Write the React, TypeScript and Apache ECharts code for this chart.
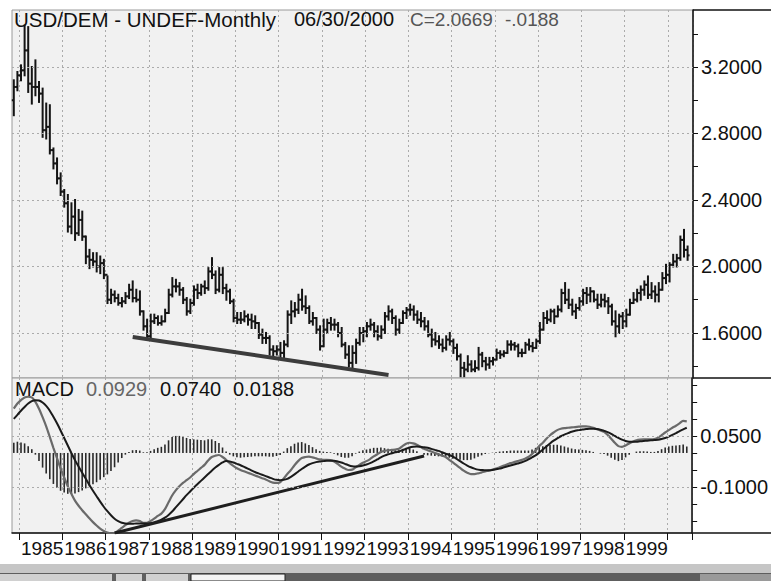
import React, { useEffect, useRef } from "react";
import * as echarts from "echarts";

// ---- Data (monthly USD/DEM, Nov 1984 .. Jun 2000) ----
const startYear = 1984;
const startMonth = 11; // November
const slotCount = 189; // one empty slot after Jun 2000

const firstOpen = 3.0;
const highs = [
  3.12, 3.17,
  3.21, 3.45, 3.44, 3.20, 3.24, 3.11, 3.07, 2.98, 2.97, 2.71, 2.65, 2.56,
  2.46, 2.43, 2.38, 2.40, 2.34, 2.33, 2.18, 2.10, 2.08, 2.08, 2.06, 2.04,
  1.94, 1.86, 1.85, 1.83, 1.81, 1.84, 1.89, 1.91, 1.86, 1.85, 1.73, 1.68,
  1.71, 1.71, 1.70, 1.70, 1.74, 1.86, 1.93, 1.92, 1.90, 1.87, 1.81, 1.80,
  1.88, 1.89, 1.89, 1.91, 1.99, 2.05, 1.97, 1.99, 1.99, 1.89, 1.86, 1.80,
  1.72, 1.72, 1.73, 1.71, 1.71, 1.70, 1.66, 1.62, 1.60, 1.58, 1.52, 1.52,
  1.54, 1.55, 1.73, 1.79, 1.78, 1.83, 1.86, 1.82, 1.76, 1.72, 1.69, 1.64,
  1.68, 1.68, 1.69, 1.68, 1.66, 1.63, 1.54, 1.52, 1.52, 1.56, 1.63, 1.63,
  1.66, 1.68, 1.66, 1.64, 1.64, 1.72, 1.76, 1.74, 1.70, 1.68, 1.73, 1.75,
  1.77, 1.76, 1.73, 1.72, 1.69, 1.67, 1.62, 1.60, 1.58, 1.56, 1.58, 1.60,
  1.56, 1.53, 1.47, 1.42, 1.46, 1.43, 1.43, 1.51, 1.48, 1.45, 1.45, 1.45,
  1.50, 1.49, 1.49, 1.55, 1.55, 1.54, 1.53, 1.50, 1.54, 1.56, 1.54, 1.56,
  1.66, 1.72, 1.73, 1.74, 1.74, 1.76, 1.86, 1.90, 1.86, 1.80, 1.77, 1.81,
  1.86, 1.87, 1.87, 1.85, 1.83, 1.83, 1.83, 1.81, 1.77, 1.73, 1.71, 1.72,
  1.74, 1.80, 1.84, 1.86, 1.88, 1.91, 1.94, 1.90, 1.88, 1.90, 1.96, 2.01,
  2.02, 2.07, 2.07, 2.18, 2.22, 2.12,
];
const lows = [
  2.91, 3.06,
  3.12, 3.15, 3.05, 2.98, 3.03, 2.99, 2.78, 2.77, 2.68, 2.59, 2.50, 2.43,
  2.36, 2.21, 2.20, 2.16, 2.19, 2.16, 2.02, 1.99, 2.00, 1.97, 1.96, 1.93,
  1.78, 1.78, 1.79, 1.77, 1.76, 1.78, 1.81, 1.79, 1.79, 1.71, 1.62, 1.57,
  1.57, 1.66, 1.65, 1.65, 1.67, 1.72, 1.82, 1.85, 1.83, 1.78, 1.71, 1.72,
  1.77, 1.81, 1.83, 1.84, 1.86, 1.93, 1.84, 1.85, 1.84, 1.80, 1.78, 1.67,
  1.66, 1.66, 1.67, 1.65, 1.63, 1.63, 1.57, 1.54, 1.54, 1.47, 1.46, 1.47,
  1.45, 1.45, 1.52, 1.66, 1.70, 1.72, 1.74, 1.72, 1.66, 1.65, 1.60, 1.50,
  1.52, 1.60, 1.62, 1.62, 1.58, 1.52, 1.45, 1.40, 1.39, 1.42, 1.53, 1.55,
  1.58, 1.62, 1.58, 1.56, 1.57, 1.60, 1.68, 1.66, 1.59, 1.60, 1.66, 1.69,
  1.71, 1.68, 1.66, 1.64, 1.62, 1.58, 1.52, 1.53, 1.51, 1.49, 1.50, 1.53,
  1.48, 1.44, 1.34, 1.34, 1.37, 1.37, 1.37, 1.38, 1.40, 1.38, 1.39, 1.41,
  1.44, 1.45, 1.46, 1.48, 1.50, 1.50, 1.46, 1.46, 1.48, 1.50, 1.49, 1.51,
  1.54, 1.62, 1.66, 1.67, 1.66, 1.70, 1.73, 1.78, 1.75, 1.71, 1.69, 1.74,
  1.77, 1.78, 1.79, 1.79, 1.75, 1.76, 1.76, 1.72, 1.65, 1.58, 1.60, 1.63,
  1.64, 1.71, 1.78, 1.79, 1.80, 1.83, 1.81, 1.81, 1.79, 1.79, 1.86, 1.90,
  1.91, 2.00, 2.00, 2.04, 2.06, 2.04,
];
const closes = [
  3.08, 3.15,
  3.18, 3.30, 3.10, 3.08, 3.08, 3.04, 2.82, 2.84, 2.70, 2.62, 2.53, 2.45,
  2.38, 2.24, 2.30, 2.20, 2.28, 2.18, 2.06, 2.04, 2.03, 2.00, 2.02, 1.95,
  1.80, 1.83, 1.81, 1.78, 1.79, 1.82, 1.86, 1.81, 1.80, 1.73, 1.64, 1.58,
  1.67, 1.69, 1.66, 1.67, 1.72, 1.83, 1.88, 1.88, 1.86, 1.80, 1.73, 1.78,
  1.86, 1.84, 1.88, 1.87, 1.97, 1.95, 1.86, 1.95, 1.87, 1.85, 1.79, 1.69,
  1.68, 1.68, 1.70, 1.68, 1.67, 1.66, 1.59, 1.57, 1.57, 1.50, 1.49, 1.50,
  1.48, 1.53, 1.71, 1.73, 1.74, 1.80, 1.76, 1.75, 1.67, 1.69, 1.62, 1.52,
  1.62, 1.66, 1.65, 1.65, 1.60, 1.53, 1.47, 1.42, 1.48, 1.54, 1.60, 1.61,
  1.64, 1.65, 1.61, 1.58, 1.62, 1.70, 1.73, 1.69, 1.62, 1.66, 1.72, 1.74,
  1.74, 1.71, 1.68, 1.67, 1.64, 1.59, 1.56, 1.55, 1.53, 1.51, 1.56, 1.55,
  1.51, 1.46, 1.39, 1.38, 1.41, 1.38, 1.39, 1.47, 1.43, 1.41, 1.43, 1.44,
  1.48, 1.47, 1.48, 1.53, 1.53, 1.52, 1.48, 1.48, 1.53, 1.52, 1.51, 1.55,
  1.62, 1.69, 1.68, 1.73, 1.70, 1.74, 1.84, 1.80, 1.77, 1.73, 1.75, 1.79,
  1.84, 1.83, 1.85, 1.80, 1.77, 1.80, 1.79, 1.76, 1.67, 1.64, 1.70, 1.67,
  1.71, 1.78, 1.80, 1.84, 1.86, 1.89, 1.83, 1.85, 1.83, 1.86, 1.93, 1.95,
  2.01, 2.03, 2.05, 2.16, 2.10, 2.0669,
];

const macd = [
  0.130, 0.145,
  0.155, 0.163, 0.165, 0.163, 0.150, 0.130, 0.105, 0.078, 0.047, 0.015, -0.015, -0.045,
  -0.072, -0.098, -0.120, -0.140, -0.155, -0.168, -0.180, -0.192, -0.203, -0.213, -0.222, -0.229,
  -0.234, -0.236, -0.235, -0.228, -0.220, -0.212, -0.205, -0.200, -0.198, -0.200, -0.205, -0.205,
  -0.200, -0.193, -0.185, -0.178, -0.165, -0.145, -0.125, -0.110, -0.098, -0.088, -0.080, -0.072,
  -0.062, -0.053, -0.044, -0.035, -0.022, -0.012, -0.008, -0.006, -0.012, -0.020, -0.030, -0.038,
  -0.045, -0.050, -0.054, -0.058, -0.062, -0.066, -0.070, -0.074, -0.078, -0.083, -0.087, -0.088,
  -0.086, -0.075, -0.062, -0.050, -0.036, -0.024, -0.015, -0.012, -0.011, -0.013, -0.016, -0.019,
  -0.020, -0.020, -0.021, -0.025, -0.032, -0.040, -0.046, -0.050, -0.049, -0.042, -0.035, -0.029,
  -0.024, -0.018, -0.010, -0.004, 0.003, 0.006, 0.008, 0.009, 0.010, 0.012, 0.020, 0.027,
  0.030, 0.028, 0.024, 0.018, 0.012, 0.008, 0.004, 0.000, -0.004, -0.008, -0.012, -0.020,
  -0.028, -0.036, -0.044, -0.052, -0.058, -0.062, -0.062, -0.060, -0.057, -0.054, -0.052, -0.049,
  -0.046, -0.042, -0.038, -0.034, -0.030, -0.027, -0.024, -0.021, -0.017, -0.012, -0.003, 0.008,
  0.020, 0.030, 0.042, 0.052, 0.060, 0.067, 0.071, 0.073, 0.074, 0.075, 0.076, 0.077,
  0.078, 0.078, 0.077, 0.074, 0.070, 0.066, 0.062, 0.053, 0.042, 0.030, 0.020, 0.018,
  0.022, 0.028, 0.033, 0.037, 0.039, 0.040, 0.040, 0.040, 0.041, 0.045, 0.052, 0.060,
  0.067, 0.074, 0.080, 0.087, 0.094, 0.0929,
];
const signal = [
  0.100, 0.112,
  0.124, 0.135, 0.145, 0.152, 0.155, 0.154, 0.148, 0.138, 0.124, 0.106, 0.087, 0.066,
  0.044, 0.022, 0.000, -0.021, -0.040, -0.058, -0.076, -0.094, -0.111, -0.127, -0.143, -0.158,
  -0.171, -0.183, -0.193, -0.200, -0.205, -0.207, -0.208, -0.208, -0.207, -0.207, -0.207, -0.207,
  -0.206, -0.204, -0.200, -0.196, -0.190, -0.182, -0.172, -0.160, -0.148, -0.136, -0.124, -0.113,
  -0.102, -0.092, -0.082, -0.072, -0.062, -0.052, -0.043, -0.035, -0.028, -0.024, -0.025, -0.028,
  -0.032, -0.036, -0.041, -0.046, -0.051, -0.056, -0.060, -0.064, -0.068, -0.072, -0.076, -0.079,
  -0.080, -0.079, -0.076, -0.070, -0.063, -0.055, -0.047, -0.040, -0.034, -0.030, -0.027, -0.025,
  -0.024, -0.023, -0.023, -0.023, -0.025, -0.028, -0.032, -0.036, -0.039, -0.040, -0.039, -0.037,
  -0.034, -0.030, -0.025, -0.019, -0.013, -0.008, -0.004, -0.001, 0.002, 0.004, 0.008, 0.012,
  0.016, 0.018, 0.019, 0.018, 0.017, 0.015, 0.012, 0.009, 0.006, 0.002, -0.002, -0.006,
  -0.011, -0.017, -0.024, -0.031, -0.037, -0.042, -0.046, -0.049, -0.050, -0.051, -0.051, -0.050,
  -0.048, -0.046, -0.043, -0.040, -0.037, -0.034, -0.031, -0.028, -0.024, -0.019, -0.013, -0.007,
  0.001, 0.010, 0.019, 0.028, 0.036, 0.043, 0.049, 0.054, 0.058, 0.062, 0.065, 0.067,
  0.069, 0.070, 0.071, 0.071, 0.070, 0.068, 0.065, 0.061, 0.056, 0.050, 0.044, 0.039,
  0.035, 0.033, 0.033, 0.033, 0.034, 0.035, 0.036, 0.037, 0.038, 0.039, 0.041, 0.044,
  0.048, 0.053, 0.058, 0.064, 0.069, 0.074,
];

// trendlines drawn on the original (month index, value)
const priceTrend = [[33, 1.576], [104, 1.347]];
const macdTrend = [[28, -0.235], [114, -0.009]];

const priceLabelValues = [1.6, 2.0, 2.4, 2.8, 3.2];
const priceTickValues = [1.4, 1.6, 1.8, 2.0, 2.2, 2.4, 2.6, 2.8, 3.0, 3.2, 3.4];
const macdLabelValues = [0.05, -0.1];
const macdTickValues = [-0.2, -0.15, -0.1, -0.05, 0, 0.05, 0.1, 0.15, 0.2];

const titleParts = ["USD/DEM - UNDEF-Monthly", "06/30/2000", "C=2.0669", "-.0188"];
const macdParts = ["MACD", "0.0929", "0.0740", "0.0188"];

// ---- build ----
const categories: string[] = [];
for (let k = 0; k < slotCount; k++) {
  const m0 = startMonth - 1 + k;
  const y = startYear + Math.floor(m0 / 12);
  const m = (m0 % 12) + 1;
  categories.push(`${y}-${m < 10 ? "0" + m : m}`);
}
const isJan = (i: number) => !!categories[i] && categories[i].endsWith("-01");

const ohlc = closes.map((c, i) => [i, i === 0 ? firstOpen : closes[i - 1], highs[i], lows[i], c]);
const hist = macd.map((v, i) => +(v - signal[i]).toFixed(4));

const FONT = "'Liberation Sans', Arial, Helvetica, sans-serif";

export default function App() {
  const ref = useRef<HTMLDivElement>(null);
  useEffect(() => {
    if (!ref.current) return;
    const chart = echarts.init(ref.current, undefined, { renderer: "svg" });
    const gridL = 12, gridR = 693;
    const dotted = { type: [2, 3], color: "#ababab", width: 1 };
    const txt = (x: number, y: number, text: string, fill: string, size = 20.5) => ({
      type: "text", x, y, z: 10,
      style: { text, fill, font: `${size}px ${FONT}`, verticalAlign: "middle" },
    });
    const option: any = {
      animation: false,
      backgroundColor: "#ffffff",
      textStyle: { fontFamily: FONT },
      grid: [
        { left: gridL, top: 10, width: gridR - gridL, height: 368, show: true, backgroundColor: "#f1f1f1", borderColor: "#9a9a9a", borderWidth: 1 },
        { left: gridL, top: 378, width: gridR - gridL, height: 155, show: true, backgroundColor: "#f1f1f1", borderColor: "#9a9a9a", borderWidth: 1 },
      ],
      xAxis: [
        {
          gridIndex: 0, type: "category", data: categories, boundaryGap: true,
          axisLine: { show: false }, axisTick: { show: false }, axisLabel: { show: false },
          splitLine: { show: true, interval: (i: number) => isJan(i), lineStyle: dotted },
        },
        {
          gridIndex: 1, type: "category", data: categories, boundaryGap: true,
          axisLine: { show: true, onZero: false, lineStyle: { color: "#111", width: 1.5 } },
          axisTick: { show: true, interval: (i: number) => isJan(i), length: 7, lineStyle: { color: "#111", width: 1 } },
          axisLabel: {
            show: true, interval: (i: number) => isJan(i), align: "left", margin: 6,
            fontSize: 19, color: "#111", fontFamily: FONT,
            formatter: (v: string) => { const y = v.slice(0, 4); return y === "2000" ? "" : y; },
          },
          splitLine: { show: true, interval: (i: number) => isJan(i), lineStyle: dotted },
        },
      ],
      yAxis: [
        {
          gridIndex: 0, type: "value", position: "right", min: 1.329, max: 3.543,
          axisLine: { show: true, lineStyle: { color: "#111", width: 1.5 } },
          axisTick: { show: true, customValues: priceTickValues, length: 5, lineStyle: { color: "#111" } },
          axisLabel: { customValues: priceLabelValues, formatter: (v: number) => v.toFixed(4), fontSize: 20, color: "#111", margin: 8, fontFamily: FONT },
          splitLine: { show: false },
        },
        {
          gridIndex: 1, type: "value", position: "right", min: -0.235, max: 0.22,
          axisLine: { show: true, lineStyle: { color: "#111", width: 1.5 } },
          axisTick: { show: true, customValues: macdTickValues, length: 5, lineStyle: { color: "#111" } },
          axisLabel: { customValues: macdLabelValues, formatter: (v: number) => v.toFixed(4), fontSize: 20, color: "#111", margin: 8, fontFamily: FONT },
          splitLine: { show: false },
        },
      ],
      series: [
        {
          type: "line", xAxisIndex: 0, yAxisIndex: 0, data: [], silent: true, z: 1,
          markLine: {
            silent: true, symbol: ["none", "none"], label: { show: false },
            lineStyle: dotted,
            data: priceLabelValues.map((v) => ({ yAxis: v })),
          },
        },
        {
          type: "custom", name: "USD/DEM", xAxisIndex: 0, yAxisIndex: 0, z: 3,
          data: ohlc, encode: { x: 0, y: [2, 3] },
          renderItem: (_p: any, api: any) => {
            const i = api.value(0);
            const pO = api.coord([i, api.value(1)]);
            const pH = api.coord([i, api.value(2)]);
            const pL = api.coord([i, api.value(3)]);
            const pC = api.coord([i, api.value(4)]);
            const st = { stroke: "#141414", lineWidth: 2 };
            return {
              type: "group",
              children: [
                { type: "line", shape: { x1: pH[0], y1: pH[1] - 1, x2: pL[0], y2: pL[1] + 1 }, style: st },
                { type: "line", shape: { x1: pO[0] - 2, y1: pO[1], x2: pO[0], y2: pO[1] }, style: st },
                { type: "line", shape: { x1: pC[0], y1: pC[1], x2: pC[0] + 2, y2: pC[1] }, style: st },
              ],
            };
          },
        },
        {
          type: "line", xAxisIndex: 0, yAxisIndex: 0, data: priceTrend, symbol: "none", z: 4,
          lineStyle: { color: "#3c3c3c", width: 4 },
        },
        {
          type: "line", xAxisIndex: 1, yAxisIndex: 1, data: [], silent: true, z: 1,
          markLine: {
            silent: true, symbol: ["none", "none"], label: { show: false },
            lineStyle: dotted,
            data: macdLabelValues.map((v) => ({ yAxis: v })),
          },
        },
        {
          type: "bar", name: "Hist", xAxisIndex: 1, yAxisIndex: 1, data: hist, barWidth: 1.6, z: 2,
          itemStyle: { color: "#2a2a2a" },
        },
        {
          type: "line", name: "MACD", xAxisIndex: 1, yAxisIndex: 1, data: macd, symbol: "none", smooth: 0.3, z: 3,
          lineStyle: { color: "#6a6a6a", width: 2.2 },
        },
        {
          type: "line", name: "Signal", xAxisIndex: 1, yAxisIndex: 1, data: signal, symbol: "none", smooth: 0.3, z: 3,
          lineStyle: { color: "#1a1a1a", width: 2 },
        },
        {
          type: "line", xAxisIndex: 1, yAxisIndex: 1, data: macdTrend, symbol: "none", z: 4,
          lineStyle: { color: "#1e1e1e", width: 3 },
        },
      ],
      graphic: [
        { type: "line", shape: { x1: gridR, y1: 10, x2: 771, y2: 10 }, style: { stroke: "#111", lineWidth: 1.5 }, z: 10 },
        { type: "line", shape: { x1: gridR, y1: 378, x2: 771, y2: 378 }, style: { stroke: "#111", lineWidth: 1.5 }, z: 10 },
        { type: "line", shape: { x1: gridR, y1: 533, x2: 771, y2: 533 }, style: { stroke: "#111", lineWidth: 1.5 }, z: 10 },
        { type: "rect", shape: { x: 0, y: 564, width: 771, height: 9 }, style: { fill: "#c6c6c6" }, z: 10 },
        { type: "rect", shape: { x: 0, y: 573, width: 771, height: 8 }, style: { fill: "#5e5e5e" }, z: 10 },
        { type: "rect", shape: { x: 0, y: 574, width: 112, height: 7 }, style: { fill: "#d0d0d0" }, z: 11 },
        { type: "rect", shape: { x: 116, y: 574, width: 26, height: 7 }, style: { fill: "#d0d0d0" }, z: 11 },
        { type: "rect", shape: { x: 146, y: 574, width: 42, height: 7 }, style: { fill: "#d0d0d0" }, z: 11 },
        { type: "rect", shape: { x: 191, y: 574, width: 94, height: 7 }, style: { fill: "#f4f4f4", stroke: "#222", lineWidth: 1 }, z: 11 },
        { type: "rect", shape: { x: 700, y: 574, width: 71, height: 7 }, style: { fill: "#9a9a9a" }, z: 11 },
        txt(14, 19, titleParts[0], "#111"),
        txt(294, 19, titleParts[1], "#111", 20),
        txt(410, 19, titleParts[2], "#555", 19),
        txt(505, 19, titleParts[3], "#555", 19),
        txt(15, 389, macdParts[0], "#111", 20),
        txt(86, 389, macdParts[1], "#666", 20),
        txt(160, 389, macdParts[2], "#111", 20),
        txt(233, 389, macdParts[3], "#111", 20),
      ],
    };
    chart.setOption(option);
    return () => chart.dispose();
  }, []);
  return <div ref={ref} style={{ position: "absolute", left: 0, top: 0, width: 771, height: 581 }} />;
}
